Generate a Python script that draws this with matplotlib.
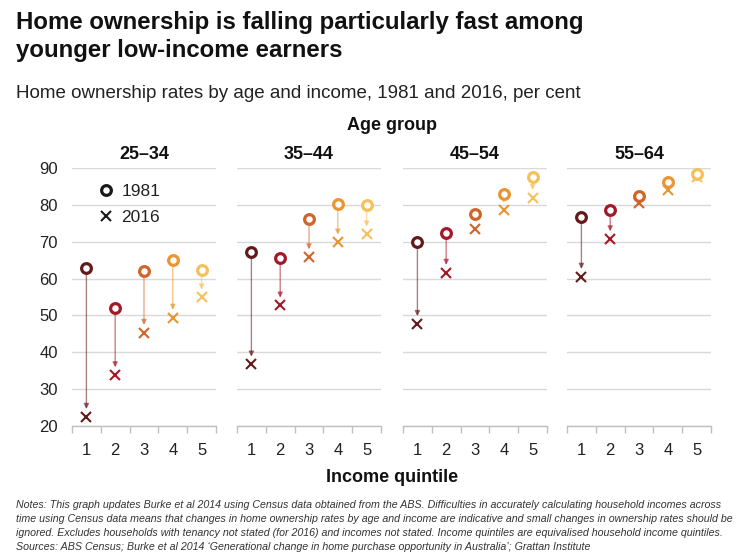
import matplotlib
matplotlib.use("Agg")
import matplotlib.pyplot as plt
from matplotlib.lines import Line2D

plt.rcParams['font.family'] = ['Liberation Sans', 'DejaVu Sans']

age_groups = ["25–34", "35–44", "45–54", "55–64"]
quintiles = [1, 2, 3, 4, 5]
rate_1981 = [
    [62.8, 51.9, 62.1, 65.0, 62.3],
    [67.1, 65.7, 76.2, 80.1, 80.0],
    [70.0, 72.5, 77.5, 82.9, 87.6],
    [76.6, 78.5, 82.5, 86.3, 88.4],
]
rate_2016 = [
    [22.5, 33.8, 45.3, 49.4, 54.9],
    [36.7, 52.7, 65.8, 69.8, 72.0],
    [47.7, 61.6, 73.5, 78.6, 81.9],
    [60.5, 70.7, 80.4, 84.0, 87.5],
]
yticks = [20, 30, 40, 50, 60, 70, 80, 90]
colors = ["#621a1a", "#a3192a", "#d0652a", "#ea9530", "#f5c15a"]

W, H = 754, 555
fig = plt.figure(figsize=(W / 100, H / 100), dpi=100)

lefts = [72, 237, 403, 567]
pw = 144
top_px, bot_px = 168, 426
grid_c = "#d9d9d9"

for i, ax_left in enumerate(lefts):
    ax = fig.add_axes([ax_left / W, 1 - bot_px / H, pw / W, (bot_px - top_px) / H])
    ax.set_xlim(0.5, 5.5)
    ax.set_ylim(20, 90)
    for s in ["top", "right", "left"]:
        ax.spines[s].set_visible(False)
    ax.spines["bottom"].set_color("#bfbfbf")
    ax.spines["bottom"].set_linewidth(1.0)
    ax.set_yticks(yticks)
    ax.yaxis.grid(True, color=grid_c, linewidth=1.0)
    ax.set_axisbelow(True)
    ax.tick_params(axis="y", length=0, labelsize=12, colors="#222222", pad=10)
    if i > 0:
        ax.tick_params(axis="y", labelleft=False)
    ax.set_xticks(quintiles)
    ax.set_xticks([0.5, 1.5, 2.5, 3.5, 4.5, 5.5], minor=True)
    ax.tick_params(axis="x", which="major", length=0, labelsize=12, colors="#222222", pad=12)
    ax.tick_params(axis="x", which="minor", length=5, color="#bfbfbf", width=1.0)
    for j, q in enumerate(quintiles):
        y0 = rate_1981[i][j]
        y1 = rate_2016[i][j]
        c = colors[j]
        if y0 - y1 > 3:
            ax.annotate("", xy=(q, y1), xytext=(q, y0),
                        arrowprops=dict(arrowstyle="-|>,head_length=0.3,head_width=0.15",
                                        color=c, alpha=0.55, lw=1.0,
                                        shrinkA=4, shrinkB=5.5),
                        zorder=2)
        ax.plot(q, y1, marker="x", ms=7.5, mew=1.5, color=c, linestyle="none",
                zorder=3, clip_on=False)
        ax.plot(q, y0, marker="o", ms=7, mew=2.3, mfc="white", mec=c,
                linestyle="none", zorder=4, clip_on=False)
    ax.text(0.5, 1.018, age_groups[i], transform=ax.transAxes, ha="center",
            va="bottom", fontsize=13, fontweight="bold", color="#111111")
    if i == 0:
        handles = [
            Line2D([], [], marker="o", ms=7, mew=2.3, mfc="white", mec="#1a1a1a",
                   linestyle="none", label="1981"),
            Line2D([], [], marker="x", ms=7.5, mew=1.5, color="#1a1a1a",
                   linestyle="none", label="2016"),
        ]
        ax.legend(handles=handles, loc="upper left", bbox_to_anchor=(0.06, 1.0),
                  frameon=False, fontsize=12.5, handletextpad=0.35,
                  labelspacing=0.62, handlelength=1.1, labelcolor="#222222")

fig.text(16 / W, 1 - 11 / H, "Home ownership is falling particularly fast among\nyounger low-income earners",
         ha="left", va="top", fontsize=17.3, fontweight="bold", color="#111111",
         linespacing=1.3)
fig.text(16 / W, 1 - 93 / H, "Home ownership rates by age and income, 1981 and 2016, per cent",
         ha="left", va="center", fontsize=13.5, color="#222222")
fig.text(392 / W, 1 - 126 / H, "Age group", ha="center", va="center",
         fontsize=13, fontweight="bold", color="#111111")
fig.text(392 / W, 1 - 477 / H, "Income quintile", ha="center", va="center",
         fontsize=13, fontweight="bold", color="#111111")

notes = ("Notes: This graph updates Burke et al 2014 using Census data obtained from the ABS. Difficulties in accurately calculating household incomes across\n"
         "time using Census data means that changes in home ownership rates by age and income are indicative and small changes in ownership rates should be\n"
         "ignored. Excludes households with tenancy not stated (for 2016) and incomes not stated. Income quintiles are equivalised household income quintiles.\n"
         "Sources: ABS Census; Burke et al 2014 \u2018Generational change in home purchase opportunity in Australia\u2019; Grattan Institute")
fig.text(16 / W, 1 - 500 / H, notes, ha="left", va="top", fontsize=7.62,
         style="italic", color="#333333", linespacing=1.5,
         family=["Liberation Sans Narrow", "Liberation Sans", "DejaVu Sans"])

fig.savefig("out.png", dpi=100, facecolor="white")
